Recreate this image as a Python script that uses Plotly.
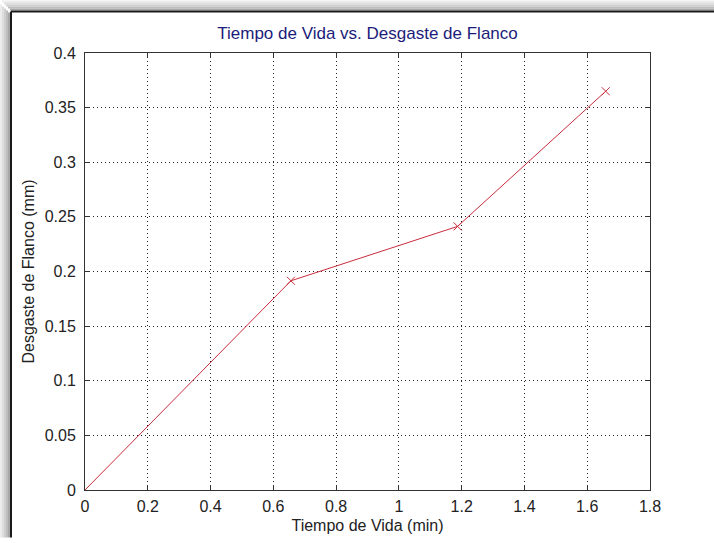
import plotly.graph_objects as go

# Data
tiempo = [0.0, 0.656, 1.187, 1.659]          # Tiempo de Vida (min)
desgaste = [0.0, 0.1915, 0.2413, 0.365]      # Desgaste de Flanco (mm)

x_ticks = [0, 0.2, 0.4, 0.6, 0.8, 1, 1.2, 1.4, 1.6, 1.8]
x_tick_text = ["0", "0.2", "0.4", "0.6", "0.8", "1", "1.2", "1.4", "1.6", "1.8"]
y_ticks = [0, 0.05, 0.1, 0.15, 0.2, 0.25, 0.3, 0.35, 0.4]
y_tick_text = ["0", "0.05", "0.1", "0.15", "0.2", "0.25", "0.3", "0.35", "0.4"]

W, H = 714, 543
L, R, T, B = 85, 650, 53, 495  # plot area in pixels
FONT = "Liberation Sans, Arial, sans-serif"


def px(x):
    return (x - L) / (R - L)


def py(y):
    return (B - y) / (B - T)


fig = go.Figure()
fig.add_trace(go.Scatter(
    x=tiempo, y=desgaste, mode="lines+markers",
    line=dict(color="rgb(200,45,60)", width=1),
    marker=dict(symbol="x-thin", size=8, line=dict(color="rgb(200,45,60)", width=1)),
    showlegend=False,
))

shapes = []
# window shadow (left and top), gradient strips
shadow_cols = ["#ececec", "#dedede", "#cfcfcf", "#bdbdbd", "#a8a8a8"]
for i, c in enumerate(shadow_cols):
    x0 = i * 2
    shapes.append(dict(type="rect", xref="paper", yref="paper",
                       x0=px(x0), x1=px(x0 + 2), y0=py(H), y1=py(x0 + 2 + 2),
                       line=dict(width=0), fillcolor=c, layer="below"))
    shapes.append(dict(type="rect", xref="paper", yref="paper",
                       x0=px(x0 + 2), x1=px(W), y0=py(x0 + 2), y1=py(x0),
                       line=dict(width=0), fillcolor=c, layer="below"))
# window border
shapes.append(dict(type="line", xref="paper", yref="paper",
                   x0=px(11), x1=px(W), y0=py(11), y1=py(11),
                   line=dict(color="#1a1a1a", width=2)))
shapes.append(dict(type="line", xref="paper", yref="paper",
                   x0=px(11), x1=px(11), y0=py(11), y1=py(H),
                   line=dict(color="#1a1a1a", width=2)))

axis_common = dict(
    showline=True, linecolor="#333333", linewidth=1, mirror="ticks",
    ticks="inside", ticklen=5, tickcolor="#333333",
    showgrid=True, gridcolor="#222222", gridwidth=1, griddash="1px,3px",
    zeroline=False, tickfont=dict(family=FONT, size=16, color="#222222"),
)

fig.update_layout(
    width=W, height=H,
    margin=dict(l=L, r=W - R, t=T, b=H - B),
    paper_bgcolor="white", plot_bgcolor="white",
    title=dict(text="Tiempo de Vida vs. Desgaste de Flanco",
               x=(L + R) / 2 / W, xanchor="center", xref="container",
               y=1 - 33 / H, yanchor="middle", yref="container",
               font=dict(family=FONT, size=17, color="#1c1c7a")),
    xaxis=dict(range=[0, 1.8], tickvals=x_ticks, ticktext=x_tick_text,
               title=dict(text="Tiempo de Vida (min)", standoff=5,
                          font=dict(family=FONT, size=16, color="#222222")),
               ticklabelstandoff=2, **axis_common),
    yaxis=dict(range=[0, 0.4], tickvals=y_ticks, ticktext=y_tick_text,
               title=dict(text="Desgaste de Flanco (mm)", standoff=6,
                          font=dict(family=FONT, size=16, color="#222222")),
               ticklabelstandoff=5, **axis_common),
    shapes=shapes,
)

fig.write_html("out.html", config={"displayModeBar": False},
               post_script="document.body.style.margin='0';")
